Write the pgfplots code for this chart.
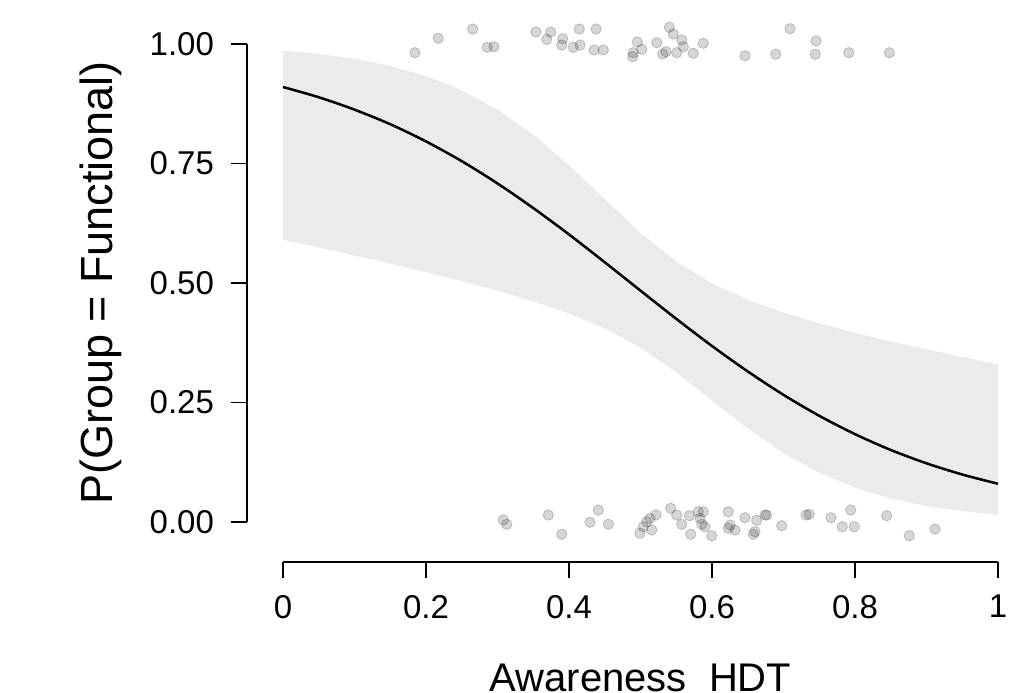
\documentclass[border=0pt]{standalone}
\usepackage{fontspec}
\setmainfont{Liberation Sans}
\usepackage{pgfplots}
\pgfplotsset{compat=1.18}
\begin{document}
\begin{tikzpicture}
\begin{axis}[
  name=ax,
  width=357.5pt, height=239pt, scale only axis,
  xmin=0, xmax=1, ymin=0, ymax=1,
  clip=false,
  axis x line=bottom, axis y line=left,
  axis x line shift=20pt, axis y line shift=18pt,
  x axis line style={-, line width=1pt},
  y axis line style={-, line width=0.7pt},
  tick align=outside, major tick length=8pt,
  tick style={line width=0.6pt, black},
  xtick={0,0.2,0.4,0.6,0.8,1},
  xticklabels={0,0.2,0.4,0.6,0.8,1},
  ytick={0,0.25,0.5,0.75,1},
  yticklabels={0.00,0.25,0.50,0.75,1.00},
  tick label style={font=\fontsize{16.5}{19}\selectfont},
  xticklabel style={yshift=-5pt},
  yticklabel style={xshift=-5pt},
  xlabel={Awareness\_HDT},
  ylabel={P(Group = Functional)},
  xlabel style={font=\fontsize{20}{24}\selectfont, at={(rel axis cs:0.5,0)}, anchor=base, yshift=-84.5pt},
  ylabel style={font=\fontsize{22.5}{26}\selectfont, at={(rel axis cs:0,0.5)}, anchor=center, yshift=91pt},
]
% confidence band
\addplot[fill=black!8, draw=none] coordinates {
(0,0.9861) (0.05,0.9792) (0.1,0.9691) (0.15,0.9543) (0.2,0.9331) (0.25,0.9033)
(0.3,0.8627) (0.35,0.8102) (0.4,0.7465) (0.45,0.6753) (0.5,0.6050) (0.55,0.5449)
(0.6,0.4991) (0.65,0.4651) (0.7,0.4382) (0.75,0.4157) (0.8,0.3958) (0.85,0.3777)
(0.9,0.3611) (0.95,0.3451) (1,0.3300)
(1,0.0151) (0.95,0.0226) (0.9,0.0335) (0.85,0.0493) (0.8,0.0718) (0.75,0.1029)
(0.7,0.1441) (0.65,0.1956) (0.6,0.2542) (0.55,0.3134) (0.5,0.3648) (0.45,0.4050)
(0.4,0.4363) (0.35,0.4616) (0.3,0.4839) (0.25,0.5040) (0.2,0.5227) (0.15,0.5407)
(0.1,0.5575) (0.05,0.5742) (0,0.5903)
} -- cycle;
% fitted curve
\addplot[black, line width=1.25pt, smooth] coordinates {
(0,0.910) (0.05,0.8886) (0.1,0.8627) (0.15,0.8322) (0.2,0.7962) (0.25,0.7549)
(0.3,0.7083) (0.35,0.6568) (0.4,0.6016) (0.45,0.5434) (0.5,0.4840) (0.55,0.4251)
(0.6,0.3682) (0.65,0.3150) (0.7,0.2660) (0.75,0.2222) (0.8,0.1838) (0.85,0.1507)
(0.9,0.1228) (0.95,0.0994) (1,0.0800)
};
% observed (jittered) points
\addplot[only marks, mark=*, mark size=2.6pt,
  mark options={fill=black, fill opacity=0.16, draw=black, draw opacity=0.2, line width=0.4pt}]
coordinates {
(0.1846,0.9818) (0.2172,1.0119) (0.2653,1.0314) (0.2857,0.9931) (0.2951,0.9944)
(0.3538,1.0251) (0.3688,1.0098) (0.3744,1.0251) (0.3912,1.0111) (0.3898,0.9979)
(0.4060,0.9931) (0.4144,1.0314) (0.4154,0.9979) (0.4378,1.0314) (0.4350,0.9874)
(0.4480,0.9874) (0.4899,0.9818) (0.4891,0.9734) (0.4955,1.0042) (0.5017,0.9889)
(0.5227,1.0027) (0.5403,1.0349) (0.5459,1.0209) (0.5310,0.9791) (0.5357,0.9839)
(0.5506,0.9818) (0.5576,1.0084) (0.5599,0.9944) (0.5738,0.9805) (0.5878,1.0015)
(0.6462,0.9755) (0.6891,0.9785) (0.7091,1.0320) (0.7455,1.0063) (0.7445,0.9785)
(0.7912,0.9818) (0.8480,0.9818)
(0.3081,0.0042) (0.3129,-0.0048) (0.3710,0.0146) (0.3898,-0.0257) (0.4294,-0.0006)
(0.4410,0.0251) (0.4550,-0.0048) (0.4993,-0.0236) (0.5039,-0.0098) (0.5087,0.0006)
(0.5133,0.0077) (0.5157,-0.0167) (0.5217,0.0146) (0.5422,0.0287) (0.5506,0.0146)
(0.5576,-0.0048) (0.5683,0.0132) (0.5702,-0.0257) (0.5808,0.0215) (0.5878,0.0215)
(0.5832,0.0077) (0.5856,-0.0048) (0.5902,-0.0098) (0.5996,-0.0287) (0.6228,0.0215)
(0.6228,-0.0132) (0.6252,-0.0063) (0.6322,-0.0167) (0.6462,0.0090) (0.6625,0.0036)
(0.6741,0.0146) (0.6765,0.0146) (0.6601,-0.0203) (0.6578,-0.0257) (0.6975,-0.0077)
(0.7315,0.0146) (0.7361,0.0161) (0.7664,0.0090) (0.7822,-0.0098) (0.7940,0.0251)
(0.7990,-0.0098) (0.8443,0.0132) (0.8759,-0.0287) (0.9119,-0.0146)
};
\end{axis}
\pgfresetboundingbox
\path[use as bounding box] ([shift={(-141.5pt,-85pt)}]ax.origin) rectangle ([shift={(374.5pt,261pt)}]ax.origin);
\end{tikzpicture}
\end{document}
